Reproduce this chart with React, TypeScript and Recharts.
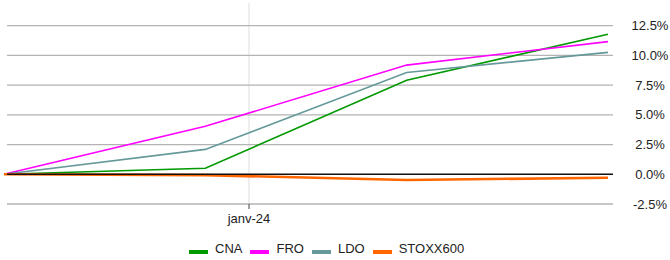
import React from "react";
import { LineChart, Line, XAxis, YAxis, ReferenceLine, Legend } from "recharts";

const positions = [0, 1, 2, 3];
const cna = [0, 0.51, 7.91, 11.77];
const fro = [0, 4.03, 9.18, 11.15];
const ldo = [0, 2.09, 8.56, 10.25];
const stoxx = [0, -0.07, -0.48, -0.29];

const xTickValues = [1.217];
const xTickLabels = ["janv-24"];
const yTicks = [-2.5, 0, 2.5, 5, 7.5, 10, 12.5];
const gridStart = 0.015;
const xMax = 3.025;

const seriesNames = ["CNA", "FRO", "LDO", "STOXX600"];
const seriesKeys = ["cna", "fro", "ldo", "stoxx"];
const seriesColors = ["#009900", "#ff00ff", "#669999", "#ff6600"];
const seriesWidths = [1.6, 1.6, 1.6, 2.6];

const data = positions.map((p, i) => ({
  x: p,
  cna: cna[i],
  fro: fro[i],
  ldo: ldo[i],
  stoxx: stoxx[i],
}));

const FONT = "'Liberation Sans', Arial, sans-serif";

const YTick = (props: any) => {
  const { y, payload } = props;
  return (
    <text x={650} y={y} dy={4.5} textAnchor="middle" fontSize={13} fill="#222" fontFamily={FONT}>
      {payload.value.toFixed(1) + "%"}
    </text>
  );
};

const XTick = (props: any) => {
  const { x, y, payload } = props;
  const idx = xTickValues.indexOf(payload.value);
  return (
    <text x={x} y={y} dy={12} textAnchor="middle" fontSize={13} fill="#222" fontFamily={FONT}>
      {idx >= 0 ? xTickLabels[idx] : ""}
    </text>
  );
};

const LegendContent = () => (
  <div
    style={{
      display: "flex",
      alignItems: "center",
      height: 20,
      paddingLeft: 189,
      fontFamily: FONT,
      fontSize: 13,
      color: "#222",
    }}
  >
    {seriesNames.map((n, i) => (
      <div key={n} style={{ display: "flex", alignItems: "center", marginRight: 8 }}>
        <span
          style={{
            display: "inline-block",
            width: 19,
            height: 4,
            background: seriesColors[i],
            marginRight: 7,
            position: "relative",
            top: 4,
          }}
        />
        <span>{n}</span>
      </div>
    ))}
  </div>
);

export default function App() {
  return (
    <div style={{ position: "absolute", left: 0, top: 0, background: "#fff" }}>
      <LineChart width={670} height={260} data={data} margin={{ top: 3, right: 0, left: 4, bottom: 2 }}>
        <XAxis
          dataKey="x"
          type="number"
          domain={[0, xMax]}
          ticks={xTickValues}
          tick={<XTick />}
          tickLine={{ stroke: "#444" }}
          tickSize={5}
          axisLine={false}
          height={34}
          interval={0}
        />
        <YAxis
          orientation="right"
          type="number"
          domain={[-2.5, 14.4]}
          ticks={yTicks}
          tick={<YTick />}
          tickLine={false}
          axisLine={false}
          width={57}
          interval={0}
        />
        {xTickValues.map((v) => (
          <ReferenceLine key={"v" + v} x={v} stroke="#dddddd" strokeWidth={1} />
        ))}
        {yTicks
          .filter((t) => t !== 0)
          .map((t) => (
            <ReferenceLine
              key={"h" + t}
              segment={[
                { x: gridStart, y: t },
                { x: xMax, y: t },
              ]}
              stroke="#b3b3b3"
              strokeWidth={1.3}
            />
          ))}
        {seriesKeys.map((k, i) => (
          <Line
            key={k}
            dataKey={k}
            name={seriesNames[i]}
            stroke={seriesColors[i]}
            strokeWidth={seriesWidths[i]}
            dot={false}
            activeDot={false}
            isAnimationActive={false}
            type="linear"
          />
        ))}
        <ReferenceLine
          segment={[
            { x: gridStart, y: 0 },
            { x: xMax, y: 0 },
          ]}
          stroke="#111"
          strokeWidth={1.4}
        />
        <Legend
          verticalAlign="bottom"
          content={<LegendContent />}
          wrapperStyle={{ left: 0, width: 670, height: 20 }}
        />
      </LineChart>
    </div>
  );
}
